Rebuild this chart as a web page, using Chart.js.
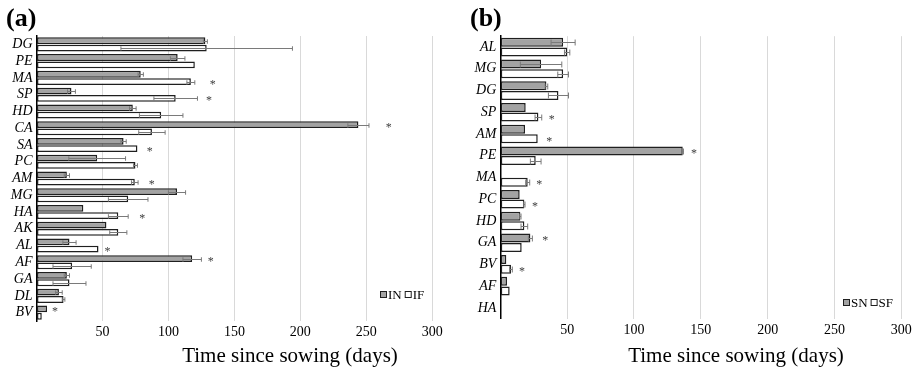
<!DOCTYPE html>
<html><head><meta charset="utf-8">
<script src="https://cdn.jsdelivr.net/npm/chart.js@4"></script>
<style>
html,body{margin:0;padding:0;background:#fff;}
#wrap{position:relative;width:918px;height:370px;overflow:hidden;background:#fff;}
.pane{position:absolute;top:0;width:459px;height:370px;}
</style></head><body>
<div id="wrap">
<div class="pane" style="left:0"><canvas id="ca" width="459" height="370"></canvas></div>
<div class="pane" style="left:459px"><canvas id="cb" width="459" height="370"></canvas></div>
</div>
<script>
// ---------- Panel (a) data ----------
const categoriesA = ['DG','PE','MA','SP','HD','CA','SA','PC','AM','MG','HA','AK','AL','AF','GA','DL','BV'];
const valuesIN  = [128, 107, 79, 26.5, 73, 244, 66, 46, 23, 106.5, 35.5, 53, 25, 118, 23, 17, 8];
const errorsIN  = [1.5, 5.5, 2, 3, 2.5, 8, 2, 21.5, 2, 6.5, 0, 0, 5, 7, 2, 2.5, 0];
const valuesIF  = [129, 120, 117, 105.5, 94.5, 87.5, 76.5, 75, 74.5, 69.5, 62, 62, 47, 27, 25, 20.5, 4];
const errorsIF  = [65, 0, 3, 16.5, 16.5, 10, 0, 1.5, 2.5, 15, 7.5, 6.5, 0, 14.5, 12.5, 1, 0];
const starsA    = [null, null, 133.5, 130.7, null, 267, 85.8, null, 87.3, null, 80.2, null, 53.9, 132, null, null, 14];
const starBarA  = [null, null, 1, 1, null, 0, 1, null, 1, null, 1, null, 1, 0, null, null, 0];

// ---------- Panel (b) data ----------
const categoriesB = ['AL','MG','DG','SP','AM','PE','MA','PC','HD','GA','BV','AF','HA'];
const valuesSN  = [47, 30.5, 34.5, 19, 18.5, 136.5, null, 14.5, 15, 22.5, 4.5, 5, null];
const errorsSN  = [9, 15.5, 1, 0, 0, 0.5, 0, 0, 0.5, 1.5, 0, 0, 0];
const valuesSF  = [50, 47, 43.5, 28.5, 28, 26.5, 20.5, 18, 18, 16, 8, 7, null];
const errorsSF  = [2, 4, 7.5, 2.5, 0, 4, 1.5, 0.5, 2.5, 0, 1, 0, 0];
const starsB    = [null, null, null, 38.5, 36.7, 145, 29.2, 26, null, 33.7, 16.2, null, null];
const starBarB  = [null, null, null, 1, 1, 0, 1, 1, null, 0, 1, null, null];

const xTicks = [0, 50, 100, 150, 200, 250, 300];
const axisTitle = 'Time since sowing (days)';

const SERIF = "'Liberation Serif','Times New Roman',serif";
const GRAY = '#a3a3a3', EDGE = '#1f1f1f';

const extras = {
  id: 'extras',
  afterDatasetsDraw(chart, args, o) {
    const ctx = chart.ctx, xs = chart.scales.x;
    ctx.save();
    o.errors.forEach((errs, di) => {
      const meta = chart.getDatasetMeta(di);
      meta.data.forEach((bar, i) => {
        const v = chart.data.datasets[di].data[i];
        const e = errs[i];
        if (v == null || !e) return;
        const x1 = xs.getPixelForValue(v - e), x2 = xs.getPixelForValue(v + e);
        const y = Math.round(bar.y) + 0.5;
        const c = bar.height * 0.33;
        ctx.strokeStyle = '#7a7a7a'; ctx.lineWidth = 1;
        ctx.beginPath();
        ctx.moveTo(x1, y); ctx.lineTo(x2, y);
        ctx.moveTo(x1, y - c); ctx.lineTo(x1, y + c);
        ctx.moveTo(x2, y - c); ctx.lineTo(x2, y + c);
        ctx.stroke();
      });
    });
    ctx.fillStyle = '#404040';
    ctx.font = '12px ' + SERIF;
    ctx.textAlign = 'center'; ctx.textBaseline = 'middle';
    o.stars.forEach((s, i) => {
      if (s == null) return;
      const bar = chart.getDatasetMeta(o.starBars[i]).data[i];
      ctx.fillText('*', xs.getPixelForValue(s), bar.y + 3);
    });
    ctx.restore();
  },
  afterDraw(chart, args, o) {
    const ctx = chart.ctx;
    ctx.save();
    ctx.fillStyle = '#000';
    ctx.textBaseline = 'alphabetic';
    ctx.textAlign = 'left';
    ctx.font = 'bold 26px ' + SERIF;
    ctx.fillText(o.panel, o.panelX, 26);
    ctx.textAlign = 'center';
    ctx.font = '21px ' + SERIF;
    ctx.fillText(axisTitle, o.titleX, 362);
    // legend
    ctx.font = '13px ' + SERIF;
    ctx.textAlign = 'left';
    let x = o.legX;
    const y = o.legY;
    chart.data.datasets.forEach(ds => {
      ctx.fillStyle = ds.backgroundColor;
      ctx.strokeStyle = EDGE; ctx.lineWidth = 1;
      ctx.fillRect(x + 0.5, y - 3.5, 6, 6);
      ctx.strokeRect(x + 0.5, y - 3.5, 6, 6);
      ctx.fillStyle = '#000';
      ctx.fillText(ds.label, x + 8, y + 4);
      x += 8 + ctx.measureText(ds.label).width + 3;
    });
    ctx.restore();
  }
};

function makeChart(id, cats, dsA, dsB, labels, cfg) {
  return new Chart(document.getElementById(id), {
    type: 'bar',
    data: {
      labels: cats,
      datasets: [
        { label: labels[0], data: dsA, backgroundColor: GRAY, borderColor: EDGE, borderWidth: 1.5, borderSkipped: false,
          categoryPercentage: cfg.catPct, barPercentage: 0.93 },
        { label: labels[1], data: dsB, backgroundColor: '#ffffff', borderColor: EDGE, borderWidth: 1.5, borderSkipped: false,
          categoryPercentage: cfg.catPct, barPercentage: 0.93 }
      ]
    },
    options: {
      indexAxis: 'y',
      responsive: false,
      animation: false,
      layout: { padding: { left: 0, right: cfg.right, top: cfg.top, bottom: 0 } },
      plugins: {
        legend: { display: false },
        tooltip: { enabled: false },
        extras: cfg.extras
      },
      scales: {
        x: {
          min: 0, max: 300,
          afterBuildTicks(s) { s.ticks = xTicks.map(v => ({ value: v })); },
          afterFit(s) { s.height = cfg.xh; },
          ticks: { callback: v => v === 0 ? '' : String(v), color: '#000', font: { family: SERIF, size: 14 }, padding: 3, maxRotation: 0 },
          grid: { color: c => c.tick && c.tick.value === 0 ? 'rgba(0,0,0,0)' : '#d9d9d9', lineWidth: 1, drawTicks: false },
          border: { display: false }
        },
        y: {
          afterFit(s) { s.width = cfg.yw; },
          ticks: { color: '#000', font: { family: SERIF, size: 14, style: 'italic' }, padding: 4, autoSkip: false },
          grid: { display: false, drawTicks: false },
          border: { display: true, color: '#000', width: 1.5 }
        }
      }
    },
    plugins: [extras]
  });
}

makeChart('ca', categoriesA, valuesIN, valuesIF, ['IN', 'IF'], {
  catPct: 0.87, right: 26.7, top: 36, xh: 49, yw: 36.5,
  extras: { errors: [errorsIN, errorsIF], stars: starsA, starBars: starBarA,
            panel: '(a)', panelX: 6, titleX: 290, legX: 380, legY: 295 }
});
makeChart('cb', categoriesB, valuesSN, valuesSF, ['SN', 'SF'], {
  catPct: 0.89, right: 16.7, top: 36.2, xh: 51.2, yw: 41.3,
  extras: { errors: [errorsSN, errorsSF], stars: starsB, starBars: starBarB,
            panel: '(b)', panelX: 11, titleX: 277, legX: 384, legY: 303 }
});
</script>
</body></html>
